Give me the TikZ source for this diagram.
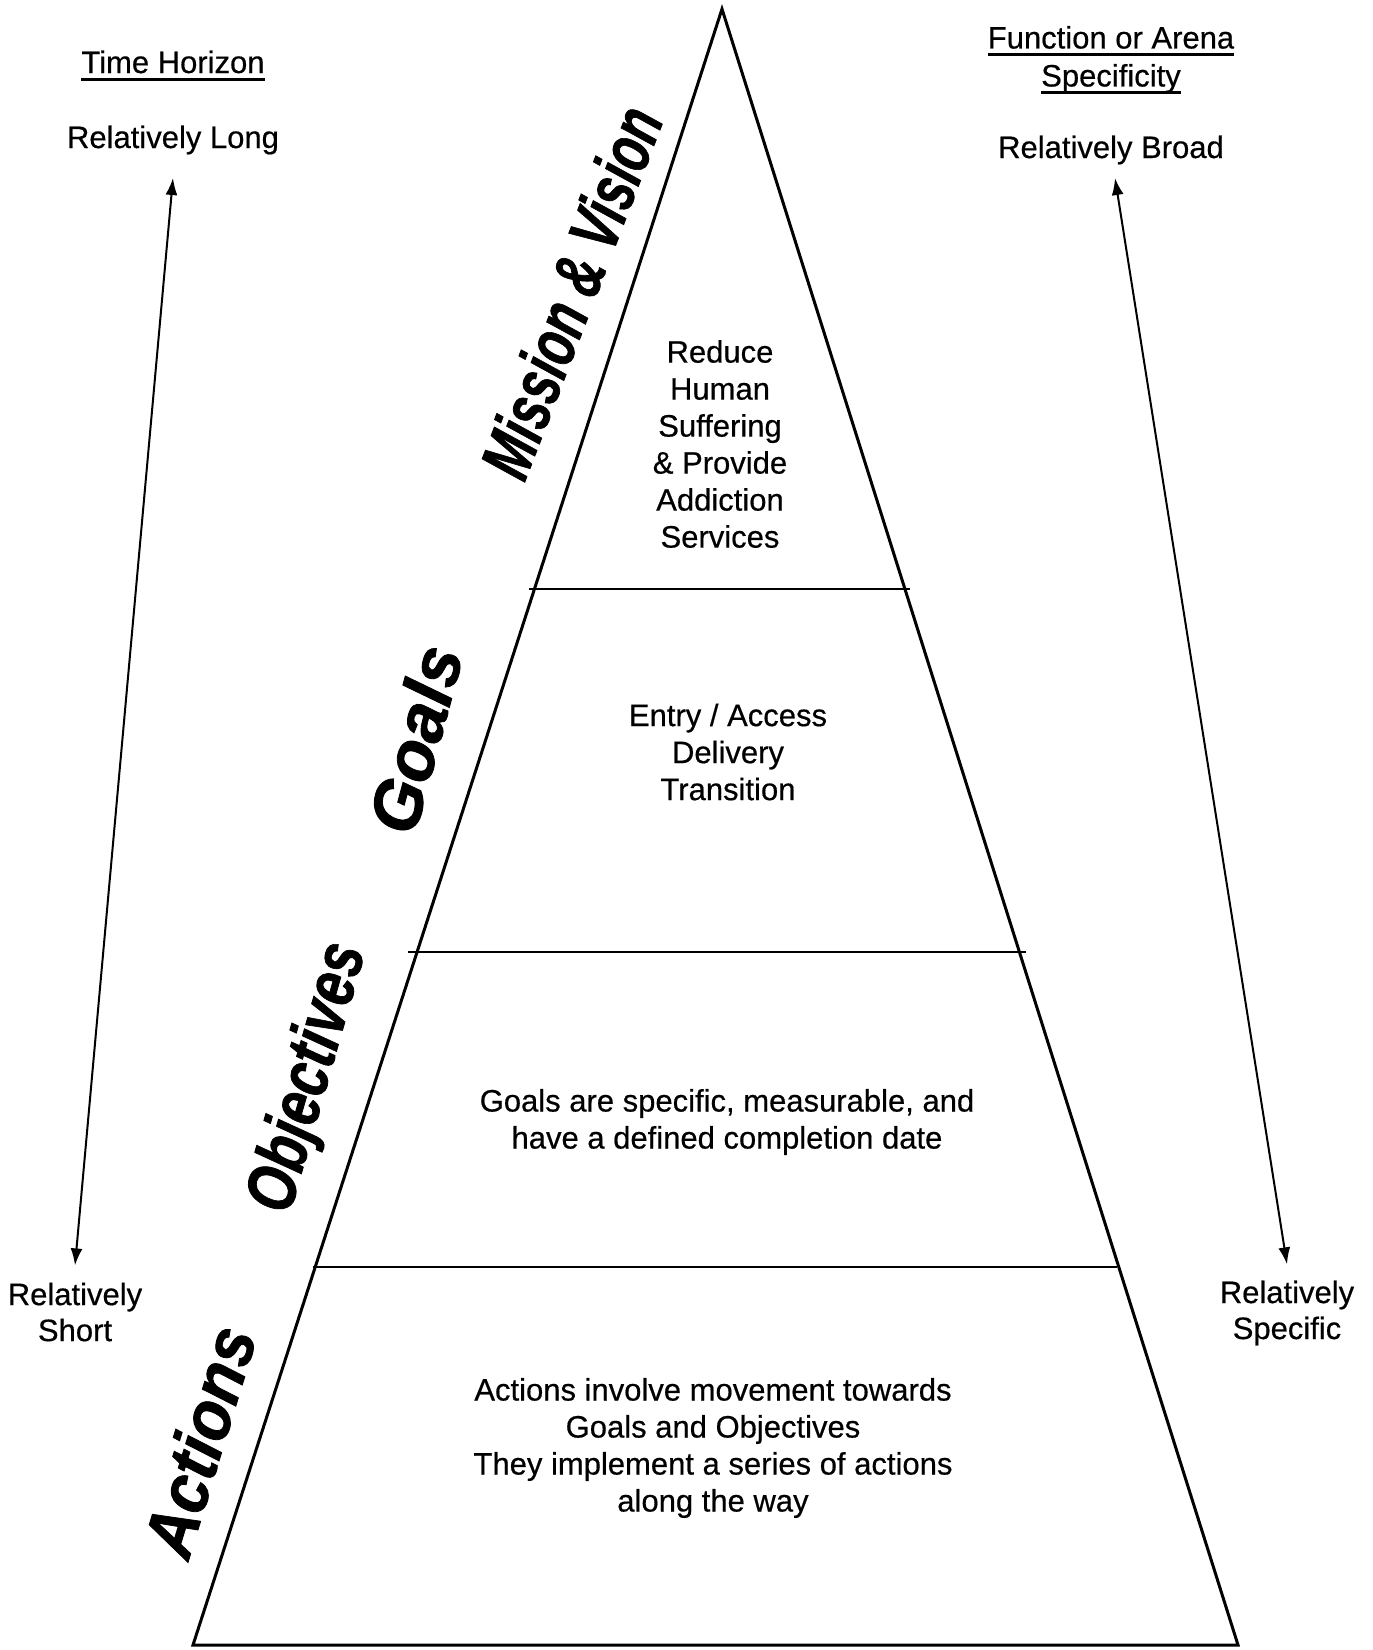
\documentclass[tikz,border=0pt]{standalone}
\usepackage{fontspec}
\setmainfont{Liberation Sans}[FakeBold=0.5]
\newfontfamily\tierfont[FakeBold=1.2]{Liberation Sans Bold Italic}
\usepackage{tikz}
\usetikzlibrary{arrows.meta}
\tikzset{edge/.style={line width=3pt, line join=miter}}
\tikzset{tierline/.style={line width=2.2pt}}
\tikzset{tiername/.style={inner sep=0pt, font=\fontsize{70}{70}\selectfont\tierfont}}
\tikzset{tiertext/.style={align=center, inner sep=0pt, font=\fontsize{31}{37}\selectfont}}
\tikzset{sidetext/.style={align=center, inner sep=0pt, font=\fontsize{31}{36}\selectfont}}
\tikzset{twoway/.style={line width=2pt, {Latex[length=17pt,width=12pt]}-{Latex[length=17pt,width=12pt]}}}
\newcommand{\hdrline}[1]{\setbox0=\hbox{#1}\rlap{\rule[-7.5pt]{\wd0}{2.5pt}}\box0}
\newcommand{\slim}[2]{\scalebox{#1}[1]{#2}}

\begin{document}
\begin{tikzpicture}[x=1pt, y=-1pt]

\useasboundingbox (0, 0) rectangle (1373, 1650);

% pyramid
\coordinate (apex) at (722, 9);
\coordinate (bl) at (193, 1645);
\coordinate (br) at (1238, 1645);
\draw[edge] (bl) -- (apex) -- (br) -- cycle;

\coordinate (m1) at (529, 589);
\coordinate (m2) at (910, 589);
\coordinate (g1) at (408, 952);
\coordinate (g2) at (1026, 952);
\coordinate (o1) at (313, 1267);
\coordinate (o2) at (1117, 1267);
\draw[tierline] (m1) -- (m2);
\draw[tierline] (g1) -- (g2);
\draw[tierline] (o1) -- (o2);

% tier names
\node[tiername, rotate=69] (mvname) at (571, 292) {\slim{0.70}{Mission \& Vision}};
\node[tiername, rotate=75] (goname) at (415, 739) {\slim{0.98}{Goals}};
\node[tiername, rotate=74] (obname) at (310, 1078) {\slim{0.78}{Objectives}};
\node[tiername, rotate=73] (acname) at (199, 1441) {\slim{0.92}{Actions}};

% tier contents
\node[tiertext] (mvtext) at (720, 444) {Reduce\\Human\\Suffering\\\& Provide\\Addiction\\Services};
\node[tiertext] (gotext) at (728, 752) {Entry / Access\\Delivery\\Transition};
\node[tiertext] (obtext) at (727, 1122) {Goals are specific, measurable, and\\have a defined completion date};
\node[tiertext] (actext) at (713, 1448) {Actions involve movement towards\\Goals and Objectives\\They implement a series of actions\\along the way};

% left scale
\node[sidetext, anchor=base] (timehdr) at (173, 73) {\hdrline{Time Horizon}};
\node[sidetext, anchor=base] (long) at (173, 148) {Relatively Long};
\node[sidetext] (short) at (75, 1312) {Relatively\\Short};
\draw[twoway] ([yshift=-30pt]long.base) -- ([yshift=17pt]short.north);

% right scale
\node[sidetext, font=\fontsize{31}{38}\selectfont] (arenahdr) at (1111, 60) {\hdrline{Function or Arena}\\\hdrline{Specificity}};
\node[sidetext, anchor=base] (broad) at (1111, 158) {Relatively Broad};
\node[sidetext] (specific) at (1287, 1313) {Relatively\\Specific};
\draw[twoway] ([xshift=4pt, yshift=-20pt]broad.base) -- ([yshift=16pt]specific.north);

\end{tikzpicture}
\end{document}
